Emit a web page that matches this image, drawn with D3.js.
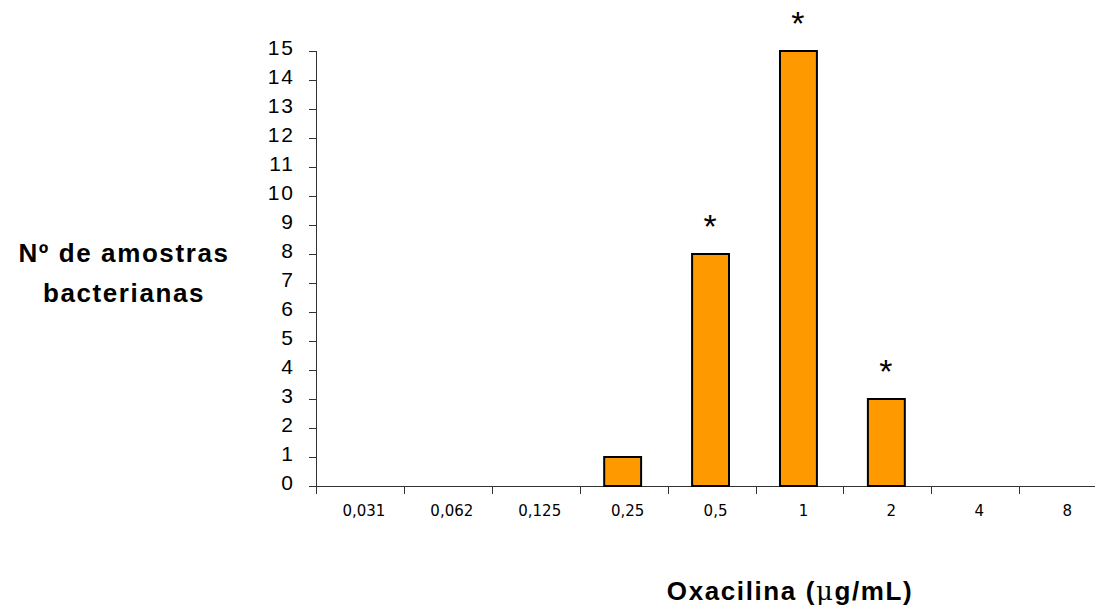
<!DOCTYPE html>
<html>
    <head>
        <meta charset="utf-8">
        <title>Oxacilina</title>
        <style type="text/css">
            body {
                margin: 0;
                background-color: #ffffff;
            }
            svg {
                display: block;
            }
            .ytick text {
                font-family: "Liberation Sans", Arial, sans-serif;
                font-size: 21px;
                letter-spacing: 2px;
                fill: #000;
            }
            .xlabel {
                font-family: "DejaVu Sans", sans-serif;
                font-size: 15px;
                fill: #000;
            }
            .title {
                font-family: "Liberation Sans", Arial, sans-serif;
                font-size: 26px;
                font-weight: bold;
                letter-spacing: 1.6px;
                fill: #000;
            }
            .star {
                font-family: "Liberation Sans", Arial, sans-serif;
                font-size: 34px;
                fill: #000;
            }
        </style>
        <script src="https://d3js.org/d3.v7.min.js"></script>
    </head>
    <body>
        <svg id="chart" width="1095" height="609"></svg>
        <script>
            const categories = ["0,031", "0,062", "0,125", "0,25", "0,5", "1", "2", "4", "8"];
            const counts = [0, 0, 0, 1, 8, 15, 3, 0, 0];
            const starred = [false, false, false, false, true, true, true, false, false];
            const yTicks = d3.range(0, 16);

            const svg = d3.select("#chart");

            const plotLeft = 316, plotBottom = 486, plotTop = 51;
            const step = 87.9;

            const x = d3.scaleBand()
                .domain(categories)
                .range([plotLeft, plotLeft + step * categories.length])
                .padding(0);

            const y = d3.scaleLinear()
                .domain([0, 15])
                .range([plotBottom, plotTop]);

            // y axis
            const yAxis = svg.append("g")
                .attr("transform", `translate(${plotLeft},0)`)
                .call(d3.axisLeft(y).tickValues(yTicks).tickSize(7).tickPadding(14).tickFormat(d3.format("d")));
            yAxis.select(".domain").remove();
            yAxis.selectAll(".tick").attr("class", "tick ytick");
            yAxis.selectAll(".tick line").attr("stroke", "#333").attr("stroke-width", 1);
            yAxis.selectAll(".tick text").attr("dy", "0.18em");
            yAxis.attr("font-family", null).attr("font-size", null);

            svg.append("line")
                .attr("x1", plotLeft + 0.5).attr("x2", plotLeft + 0.5)
                .attr("y1", plotTop).attr("y2", plotBottom + 8)
                .attr("stroke", "#333").attr("stroke-width", 1);

            // x axis
            svg.append("line")
                .attr("x1", plotLeft).attr("x2", 1095)
                .attr("y1", plotBottom + 0.5).attr("y2", plotBottom + 0.5)
                .attr("stroke", "#333").attr("stroke-width", 1);

            svg.selectAll("line.xtick")
                .data(categories)
                .join("line")
                .attr("class", "xtick")
                .attr("x1", d => Math.round(x(d)) + 0.5)
                .attr("x2", d => Math.round(x(d)) + 0.5)
                .attr("y1", plotBottom)
                .attr("y2", plotBottom + 8)
                .attr("stroke", "#333");

            svg.selectAll("text.xlabel")
                .data(categories)
                .join("text")
                .attr("class", "xlabel")
                .attr("x", d => x(d) + x.bandwidth() / 2 + 4)
                .attr("y", 516)
                .attr("text-anchor", "middle")
                .text(d => d);

            // bars
            const barW = x.bandwidth() * 0.42;
            const data = categories.map((c, i) => ({ c: c, v: counts[i], s: starred[i] }));

            svg.selectAll("rect.bar")
                .data(data.filter(d => d.v > 0))
                .join("rect")
                .attr("class", "bar")
                .attr("x", d => x(d.c) + (x.bandwidth() - barW) / 2 - 1)
                .attr("y", d => y(d.v))
                .attr("width", barW)
                .attr("height", d => y(0) - y(d.v))
                .attr("fill", "#ff9900")
                .attr("stroke", "#000")
                .attr("stroke-width", 2);

            svg.selectAll("text.star")
                .data(data.filter(d => d.s))
                .join("text")
                .attr("class", "star")
                .attr("x", d => x(d.c) + x.bandwidth() / 2 - 1.5)
                .attr("y", d => y(d.v) - 16)
                .attr("text-anchor", "middle")
                .text("*");

            // titles
            const yTitle = svg.append("text")
                .attr("class", "title")
                .attr("text-anchor", "middle");
            yTitle.append("tspan").attr("x", 124).attr("y", 262).text("Nº de amostras");
            yTitle.append("tspan").attr("x", 124).attr("y", 302).text("bacterianas");

            const xTitle = svg.append("text")
                .attr("class", "title")
                .attr("x", 790)
                .attr("y", 600)
                .attr("text-anchor", "middle");
            xTitle.append("tspan").text("Oxacilina (");
            xTitle.append("tspan").attr("font-weight", "normal").attr("font-family", "DejaVu Serif, serif").text("μ");
            xTitle.append("tspan").text("g/mL)");
        </script>
    </body>
</html>
